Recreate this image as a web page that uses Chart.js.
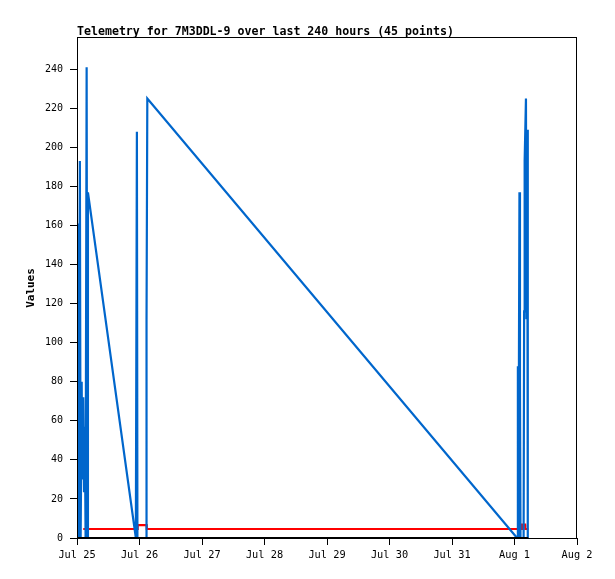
<!DOCTYPE html>
<html>
<head>
<meta charset="utf-8">
<title>Telemetry for 7M3DDL-9</title>
<script src="https://cdn.jsdelivr.net/npm/chart.js@4.4.1/dist/chart.umd.min.js"></script>
<style>
    html, body { margin: 0; padding: 0; background: #fff; }
    #telemetria { display: block; }
</style>
</head>
<body>
<canvas id="telemetria" width="615" height="579"></canvas>
<script>
// ===== DATOS =====
// horas desde Jul 25 00:00
const dayLabels = ['Jul 25', 'Jul 26', 'Jul 27', 'Jul 28', 'Jul 29', 'Jul 30', 'Jul 31', 'Aug 1', 'Aug 2'];
const yTicks = [0, 20, 40, 60, 80, 100, 120, 140, 160, 180, 200, 220, 240];

const blueHours = [0.1, 0.3, 0.6, 1.1, 1.4, 1.8, 2.0, 2.4, 2.7, 3.0, 3.3, 3.7, 3.95, 4.2,
    22.6, 23.0, 23.2, 26.5, 26.7, 27.0,
    169.0, 169.3, 169.5, 169.9, 170.1, 170.3,
    171.5, 171.7, 171.9, 172.4, 172.6, 172.9, 173.1];
const blueValues = [0, 161, 0, 193, 0, 80, 30, 72, 24, 57, 0, 241, 0, 177,
    0, 208, 0, 0, 112, 225,
    0, 88, 0, 177, 80, 0,
    0, 116, 193, 225, 112, 209, 0];

const redHours = [2.4, 23.25, 23.3, 26.75, 26.8, 170.8, 170.85, 172.1, 172.15, 173.3];
const redValues = [4.6, 4.6, 6.6, 6.6, 4.6, 4.6, 6.8, 6.8, 4.6, 4.6];

const zeroHours = [0, 173.3];
const zeroValues = [0, 0];

function puntos(xs, ys) {
    return xs.map((x, i) => ({ x: x, y: ys[i] }));
}

// ===== TITULO Y MARCO =====
const marco = {
    id: 'marco',
    afterDraw(chart) {
        const a = chart.chartArea;
        const c = chart.ctx;
        c.save();
        c.strokeStyle = '#000';
        c.lineWidth = 1;
        c.strokeRect(Math.round(a.left) + 0.5, Math.round(a.top) - 0.5,
            Math.round(a.right - a.left) - 1, Math.round(a.bottom - a.top) + 1);
        c.fillStyle = '#000';
        c.font = 'bold 11.6px "DejaVu Sans Mono"';
        c.textBaseline = 'alphabetic';
        c.textAlign = 'left';
        c.fillText('Telemetry for 7M3DDL-9 over last 240 hours (45 points)', a.left, 35);
        c.restore();
    }
};

const ctx = document.getElementById('telemetria');

new Chart(ctx, {
    type: 'line',
    data: {
        datasets: [{
            label: 'zero',
            data: puntos(zeroHours, zeroValues),
            borderColor: '#000000',
            borderWidth: 2,
            order: 0
        }, {
            label: 'blue',
            data: puntos(blueHours, blueValues),
            borderColor: '#0066cc',
            borderWidth: 2.2,
            order: 1
        }, {
            label: 'red',
            data: puntos(redHours, redValues),
            borderColor: '#ff0000',
            borderWidth: 2.2,
            order: 2
        }]
    },
    options: {
        responsive: false,
        animation: false,
        devicePixelRatio: 1,
        layout: {
            padding: { top: 38, right: 38, left: 0, bottom: 0 }
        },
        elements: {
            point: { radius: 0 },
            line: { tension: 0, fill: false }
        },
        plugins: {
            legend: { display: false },
            tooltip: { enabled: false },
            title: { display: false }
        },
        scales: {
            x: {
                type: 'linear',
                min: 0,
                max: 192,
                afterFit: s => { s.height = 41; },
                afterBuildTicks: s => { s.ticks = dayLabels.map((l, i) => ({ value: i * 24 })); },
                ticks: {
                    autoSkip: false,
                    maxRotation: 0,
                    padding: 4,
                    color: '#000',
                    font: { family: '"DejaVu Sans Mono"', size: 10.3 },
                    callback: v => dayLabels[Math.round(v / 24)]
                },
                grid: {
                    drawOnChartArea: false,
                    drawTicks: true,
                    tickLength: 7,
                    color: '#000'
                },
                border: { display: false }
            },
            y: {
                min: 0,
                max: 256,
                afterFit: s => { s.width = 77; },
                afterBuildTicks: s => { s.ticks = yTicks.map(v => ({ value: v })); },
                ticks: {
                    padding: 7,
                    color: '#000',
                    font: { family: '"DejaVu Sans Mono"', size: 10 }
                },
                grid: {
                    drawOnChartArea: false,
                    drawTicks: true,
                    tickLength: 7,
                    color: '#000'
                },
                border: { display: false },
                title: {
                    display: true,
                    text: 'Values',
                    color: '#000',
                    font: { family: '"DejaVu Sans Mono"', size: 11, weight: 'bold' },
                    padding: { top: 25, bottom: 0 }
                }
            }
        }
    },
    plugins: [marco]
});
</script>
</body>
</html>
